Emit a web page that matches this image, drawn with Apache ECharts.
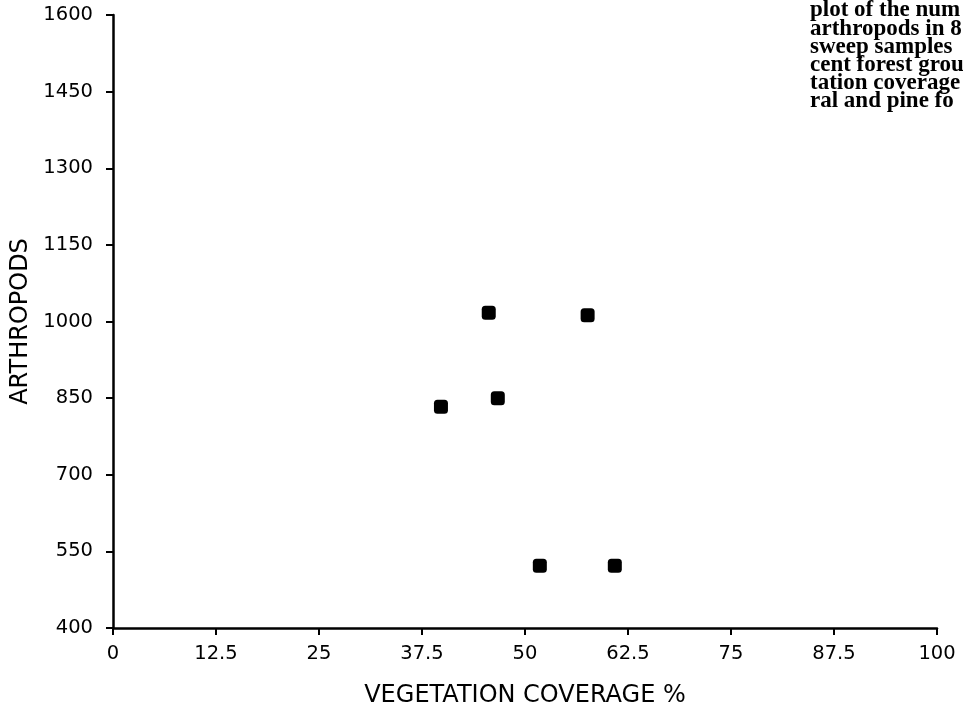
<!DOCTYPE html>
<html>
<head>
<meta charset="utf-8">
<script src="https://cdn.jsdelivr.net/npm/echarts@6/dist/echarts.min.js"></script>
<style>
  html, body { margin: 0; padding: 0; background: #fff; }
  #chart { width: 963px; height: 714px; }
</style>
</head>
<body>
<div id="chart"></div>
<script>
// Vegetation coverage (%) per site
const coverage = [39.8, 45.6, 46.7, 51.8, 57.6, 60.9];
// Arthropod counts per site
const arthropods = [833, 1017, 850, 522, 1012, 522];
// Axis tick values
const xTicks = [0, 12.5, 25, 37.5, 50, 62.5, 75, 87.5, 100];
const yTicks = [400, 550, 700, 850, 1000, 1150, 1300, 1450, 1600];
// Caption fragment running off the right edge
const captionLines = [
  'plot of the num',
  'arthropods in 8',
  'sweep samples',
  'cent forest grou',
  'tation coverage',
  'ral and pine fo'
];

const points = coverage.map((x, i) => [x, arthropods[i]]);

const chart = echarts.init(document.getElementById('chart'), null, { renderer: 'canvas' });

const axisFont = 'DejaVu Sans';

chart.setOption({
  backgroundColor: '#ffffff',
  animation: false,
  grid: { left: 113, right: 26, top: 15, bottom: 86, containLabel: false },
  xAxis: {
    type: 'value',
    min: xTicks[0],
    max: xTicks[xTicks.length - 1],
    interval: xTicks[1] - xTicks[0],
    name: 'VEGETATION COVERAGE %',
    nameLocation: 'middle',
    nameGap: 56,
    nameTextStyle: { fontFamily: axisFont, fontSize: 24, color: '#000' },
    axisLine: { show: true, lineStyle: { color: '#000', width: 2.5 } },
    axisTick: { show: true, length: 7, inside: false, lineStyle: { color: '#000', width: 2 } },
    axisLabel: {
      fontFamily: axisFont, fontSize: 19.5, color: '#000', margin: 16,
      formatter: v => String(v)
    },
    splitLine: { show: false }
  },
  yAxis: {
    type: 'value',
    min: yTicks[0],
    max: yTicks[yTicks.length - 1],
    interval: yTicks[1] - yTicks[0],
    name: 'ARTHROPODS',
    nameLocation: 'middle',
    nameGap: 76,
    nameRotate: 90,
    nameTextStyle: { fontFamily: axisFont, fontSize: 24, color: '#000' },
    axisLine: { show: true, lineStyle: { color: '#000', width: 2.5 } },
    axisTick: { show: true, length: 7, inside: false, lineStyle: { color: '#000', width: 2 } },
    axisLabel: {
      fontFamily: axisFont, fontSize: 19.5, color: '#000', margin: 20,
      formatter: v => String(v)
    },
    splitLine: { show: false }
  },
  series: [{
    type: 'scatter',
    data: points,
    symbol: 'roundRect',
    symbolSize: 14,
    itemStyle: { color: '#000', opacity: 1 }
  }],
  graphic: [{
    type: 'text',
    left: 810,
    top: -1,
    silent: true,
    style: {
      text: captionLines.join('\n'),
      fontFamily: 'Liberation Serif',
      fontWeight: 'bold',
      fontSize: 23,
      lineHeight: 18.2,
      fill: '#000'
    }
  }]
});
</script>
</body>
</html>
